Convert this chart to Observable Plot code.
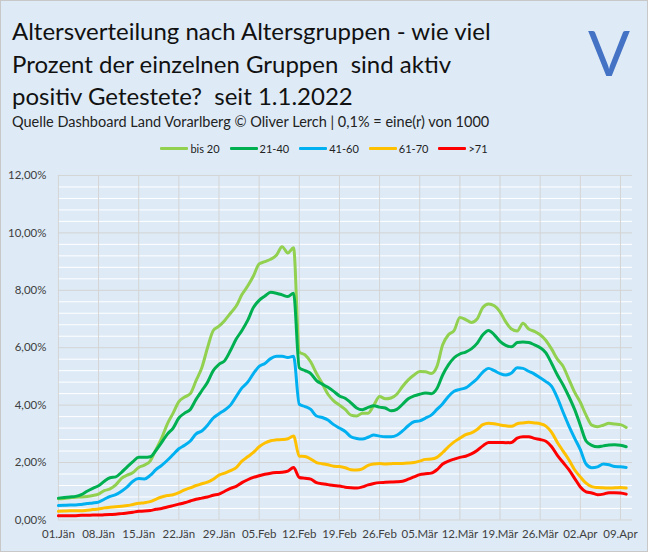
<!DOCTYPE html>
<html>
<head>
<meta charset="utf-8">
<script src="https://cdn.jsdelivr.net/npm/d3@7"></script>
<script src="https://cdn.jsdelivr.net/npm/@observablehq/plot@0.6"></script>
<style>
html,body{margin:0;padding:0;background:#fff;}
#chart{position:relative;width:648px;height:552px;background:#DEEBF7;box-sizing:border-box;border:1px solid #c8c8c8;overflow:hidden;font-family:Lato,"Open Sans",sans-serif;}
#title{position:absolute;left:11px;top:14px;font-size:24px;font-weight:400;line-height:32.5px;color:#111;white-space:nowrap;}
#sub{position:absolute;left:11px;top:112px;font-size:14.5px;font-weight:400;color:#222;white-space:nowrap;}
#logo{position:absolute;left:587px;top:16px;font-size:62px;font-weight:400;line-height:70px;color:#4472C4;}
#legend{position:absolute;top:141px;left:0;width:646px;display:flex;justify-content:center;font-size:11px;color:#222;}
.item{display:flex;align-items:center;margin:0 5px;}
.sw{width:28px;height:3px;margin-right:2px;border-radius:1px;}
#plot{position:absolute;left:-1px;top:159px;}
</style>
</head>
<body>
<div id="chart">
  <div id="title">Altersverteilung nach Altersgruppen - wie viel<br>Prozent der einzelnen Gruppen&nbsp; sind aktiv<br>positiv Getestete?&nbsp; seit 1.1.2022</div>
  <div id="sub">Quelle Dashboard Land Vorarlberg © Oliver Lerch | 0,1% = eine(r) von 1000</div>
  <div id="logo">V</div>
  <div id="legend"></div>
  <div id="plot"></div>
</div>
<script>
const seriesNames = ["bis 20", "21-40", "41-60", "61-70", ">71"];
const seriesColors = ["#92D050", "#00B050", "#00B0F0", "#FFC000", "#FF0000"];
const startDate = "2022-01-01";
const tickLabels = ["01.Jän","08.Jän","15.Jän","22.Jän","29.Jän","05.Feb","12.Feb","19.Feb","26.Feb","05.Mär","12.Mär","19.Mär","26.Mär","02.Apr","09.Apr"];
const yTicks = [0, 2, 4, 6, 8, 10, 12];

const bis20 = [
0.74,0.75,0.77,0.79,0.80,0.82,0.85,0.90,1.02,1.08,
1.22,1.45,1.56,1.65,1.83,1.91,2.05,2.45,2.85,3.35,
3.72,4.12,4.28,4.40,4.85,5.30,6.00,6.60,6.75,6.95,
7.20,7.45,7.85,8.15,8.50,8.92,9.00,9.08,9.22,9.52,
9.30,9.48,5.85,5.75,5.50,5.10,4.75,4.38,4.15,4.00,
3.85,3.65,3.62,3.72,3.72,4.00,4.30,4.22,4.25,4.38,
4.65,4.88,5.05,5.17,5.16,5.10,5.35,6.10,6.45,6.60,
7.05,6.98,6.88,7.00,7.40,7.52,7.46,7.25,6.90,6.65,
6.58,6.85,6.65,6.57,6.45,6.25,5.95,5.60,5.35,4.90,
4.45,4.10,3.65,3.30,3.25,3.30,3.37,3.34,3.32,3.22];

const g21_40 = [
0.76,0.78,0.80,0.82,0.88,1.00,1.10,1.19,1.35,1.47,
1.50,1.66,1.85,2.03,2.18,2.18,2.20,2.42,2.70,2.99,
3.20,3.55,3.72,3.85,4.20,4.50,4.80,5.20,5.42,5.55,
5.90,6.30,6.60,6.95,7.40,7.65,7.80,7.93,7.90,7.84,
7.78,7.90,5.30,5.20,5.10,4.85,4.73,4.62,4.48,4.32,
4.24,4.08,3.90,3.84,3.92,3.98,3.93,3.90,3.80,3.85,
4.03,4.22,4.32,4.38,4.42,4.40,4.58,5.05,5.40,5.65,
5.78,5.85,5.96,6.15,6.45,6.60,6.45,6.22,6.08,6.03,
6.18,6.20,6.18,6.10,6.00,5.82,5.45,5.05,4.70,4.30,
3.85,3.30,2.75,2.60,2.55,2.58,2.61,2.62,2.60,2.55];

const g41_60 = [
0.50,0.51,0.52,0.52,0.54,0.57,0.59,0.62,0.72,0.82,
0.88,1.00,1.15,1.35,1.44,1.43,1.55,1.75,1.90,2.08,
2.28,2.48,2.60,2.75,3.00,3.10,3.30,3.55,3.70,3.83,
4.00,4.30,4.60,4.80,5.10,5.35,5.45,5.62,5.70,5.70,
5.66,5.70,4.03,3.95,3.85,3.62,3.57,3.48,3.32,3.20,
3.08,2.90,2.84,2.82,2.88,2.96,2.92,2.90,2.90,2.95,
3.10,3.28,3.42,3.45,3.55,3.65,3.85,4.05,4.30,4.48,
4.55,4.60,4.75,4.92,5.15,5.28,5.20,5.10,5.05,5.12,
5.30,5.28,5.18,5.08,4.95,4.82,4.65,4.25,3.75,3.28,
2.85,2.45,1.95,1.82,1.85,1.95,1.92,1.86,1.85,1.83];

const g61_70 = [
0.30,0.31,0.32,0.32,0.32,0.34,0.36,0.38,0.42,0.44,
0.46,0.48,0.50,0.54,0.58,0.60,0.64,0.72,0.80,0.85,
0.88,0.95,1.05,1.12,1.20,1.26,1.32,1.42,1.56,1.63,
1.72,1.82,2.05,2.20,2.35,2.55,2.68,2.76,2.79,2.80,
2.83,2.92,2.22,2.21,2.12,2.00,1.96,1.92,1.87,1.86,
1.82,1.75,1.74,1.78,1.90,1.95,1.97,1.95,1.96,1.97,
1.97,1.98,2.00,2.05,2.11,2.12,2.18,2.35,2.55,2.72,
2.85,2.97,3.03,3.15,3.32,3.37,3.35,3.31,3.28,3.26,
3.35,3.38,3.40,3.38,3.35,3.27,3.05,2.70,2.40,2.10,
1.75,1.50,1.28,1.16,1.13,1.12,1.11,1.12,1.13,1.11];

const g71 = [
0.15,0.15,0.15,0.15,0.16,0.16,0.17,0.17,0.18,0.19,
0.20,0.22,0.24,0.27,0.30,0.31,0.33,0.37,0.40,0.45,
0.50,0.55,0.60,0.66,0.72,0.76,0.80,0.86,0.90,1.00,
1.10,1.17,1.30,1.40,1.48,1.54,1.59,1.63,1.65,1.66,
1.70,1.83,1.48,1.45,1.42,1.30,1.26,1.23,1.20,1.18,
1.14,1.12,1.11,1.15,1.22,1.27,1.30,1.31,1.32,1.33,
1.35,1.42,1.50,1.58,1.61,1.63,1.75,1.95,2.05,2.12,
2.18,2.22,2.30,2.42,2.58,2.70,2.70,2.70,2.69,2.70,
2.85,2.90,2.90,2.84,2.80,2.74,2.55,2.25,2.00,1.75,
1.45,1.15,0.98,0.94,0.88,0.90,0.95,0.95,0.94,0.90];

const allSeries = [bis20, g21_40, g41_60, g61_70, g71];

const DAY = 86400000;
const t0 = new Date(startDate + "T00:00:00Z").getTime();
const dateAt = i => new Date(t0 + i * DAY);

const rows = [];
allSeries.forEach((vals, s) => vals.forEach((v, i) => rows.push({date: dateAt(i), value: v, series: seriesNames[s]})));

const tickDates = tickLabels.map((_, k) => dateAt(k * 7));
const labelOf = new Map(tickDates.map((d, k) => [+d, tickLabels[k]]));
const minorY = d3.range(0, 61).map(k => k * 0.4).filter(v => v <= 12.0001 && Math.abs(v / 2 - Math.round(v / 2)) > 0.01);

const fmtPct = v => v.toFixed(2).replace(".", ",") + "%";

const chart = Plot.plot({
  width: 648,
  height: 393,
  marginTop: 15,
  marginBottom: 33,
  marginLeft: 58,
  marginRight: 15,
  style: {background: "transparent", fontFamily: "Lato, 'Open Sans', sans-serif", fontSize: "11.5px", color: "#404040"},
  x: {type: "utc", domain: [dateAt(0), dateAt(100.1)]},
  y: {domain: [0, 12]},
  color: {domain: seriesNames, range: seriesColors},
  marks: [
    Plot.ruleY(minorY, {stroke: "#ffffff", strokeWidth: 1}),
    Plot.ruleY(yTicks, {stroke: "#d4d4d4", strokeWidth: 1}),
    Plot.ruleX(tickDates, {stroke: "#d4d4d4", strokeWidth: 1}),
    Plot.axisY({ticks: yTicks, tickFormat: fmtPct, tickSize: 0, tickPadding: 12, label: null}),
    Plot.axisX({ticks: tickDates, tickFormat: d => labelOf.get(+d), tickSize: 0, tickPadding: 10, label: null}),
    Plot.lineY(rows, {x: "date", y: "value", z: "series", stroke: "series", strokeWidth: 3, curve: "monotone-x", strokeLinejoin: "round", strokeLinecap: "round"})
  ]
});
document.getElementById("plot").appendChild(chart);

const legend = document.getElementById("legend");
seriesNames.forEach((n, i) => {
  const it = document.createElement("div");
  it.className = "item";
  const sw = document.createElement("span");
  sw.className = "sw";
  sw.style.background = seriesColors[i];
  const tx = document.createElement("span");
  tx.textContent = n;
  it.appendChild(sw); it.appendChild(tx);
  legend.appendChild(it);
});
</script>
</body>
</html>
